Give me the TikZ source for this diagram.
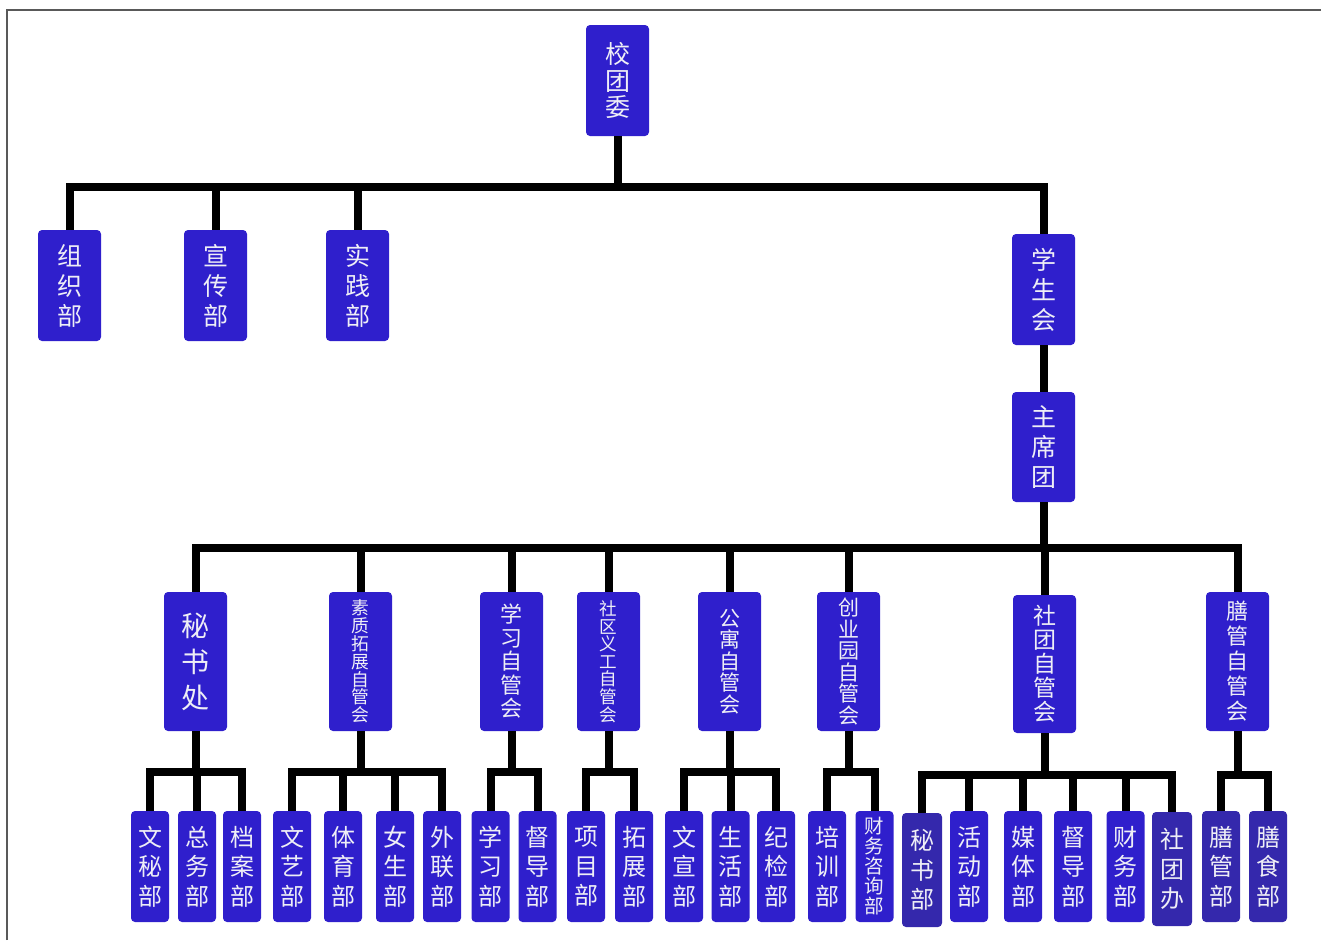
\documentclass[tikz,border=0pt]{standalone}
\usepackage{fontspec}
\newfontfamily\cjk{Noto Sans CJK SC}
\definecolor{boxblue}{RGB}{47,31,204}
\definecolor{boxdark}{RGB}{52,40,172}
\definecolor{txt}{RGB}{238,238,246}
\tikzset{
  org/.style={draw=none, fill=boxblue, rounded corners=4pt, inner sep=0pt, align=center,
    text=txt, minimum width=63pt},
  big/.style={org, minimum height=111pt, font=\cjk\fontsize{25}{28}\selectfont},
  mid/.style={org, minimum height=139pt},
  leaf/.style={org, minimum width=38pt, minimum height=111pt, font=\cjk\fontsize{24}{29.5}\selectfont},
  dark/.style={fill=boxdark, minimum width=40pt, minimum height=114pt},
  conn/.style={line width=8pt, line join=miter, black},
}
\begin{document}
\begin{tikzpicture}[x=1pt,y=-1pt]
\useasboundingbox (0,0) rectangle (1321,940);
\draw[line width=1.2pt, gray!70!black] (7,940) -- (7,10) -- (1321,10);

% level 0
\node[big, font=\cjk\fontsize{25}{26.5}\selectfont] (xtw) at (617.5,80.5) {校\\团\\委};
% level 1
\node[big, font=\cjk\fontsize{25}{30}\selectfont] (zzb) at (69.5,285.5) {组\\织\\部};
\node[big, font=\cjk\fontsize{25}{30}\selectfont] (xcb) at (215.5,285.5) {宣\\传\\部};
\node[big, font=\cjk\fontsize{25}{30}\selectfont] (sjb) at (357.5,285.5) {实\\践\\部};
\node[big, font=\cjk\fontsize{25}{30}\selectfont] (xsh) at (1043.5,289.5) {学\\生\\会};
\node[big, font=\cjk\fontsize{25}{30}\selectfont, minimum height=110pt] (zxt) at (1043.5,447) {主\\席\\团};
% level 2
\node[mid, font=\cjk\fontsize{28}{36}\selectfont] (msc) at (195.5,661.5) {秘\\书\\处};
\node[mid, font=\cjk\fontsize{17.8}{17.8}\selectfont] (szz) at (360.5,661.5) {素\\质\\拓\\展\\自\\管\\会};
\node[mid, font=\cjk\fontsize{22}{23.5}\selectfont] (xxz) at (511.5,661.5) {学\\习\\自\\管\\会};
\node[mid, font=\cjk\fontsize{17.6}{17.6}\selectfont] (sqz) at (608.5,661.5) {社\\区\\义\\工\\自\\管\\会};
\node[mid, font=\cjk\fontsize{21}{21.5}\selectfont] (gyz) at (729.5,661.5) {公\\寓\\自\\管\\会};
\node[mid, font=\cjk\fontsize{21}{21.5}\selectfont] (cyz) at (848.5,661.5) {创\\业\\园\\自\\管\\会};
\node[mid, font=\cjk\fontsize{23}{24}\selectfont, minimum height=138pt] (stz) at (1044.5,664) {社\\团\\自\\管\\会};
\node[mid, font=\cjk\fontsize{22}{25}\selectfont] (sgz) at (1237.5,661.5) {膳\\管\\自\\管\\会};
% level 3
\node[leaf] (wmb) at (150,866.5) {文\\秘\\部};
\node[leaf] (zwb) at (197,866.5) {总\\务\\部};
\node[leaf] (dab) at (242,866.5) {档\\案\\部};
\node[leaf] (wyb) at (292,866.5) {文\\艺\\部};
\node[leaf] (tyb) at (343,866.5) {体\\育\\部};
\node[leaf] (nsb) at (395,866.5) {女\\生\\部};
\node[leaf] (wlb) at (442,866.5) {外\\联\\部};
\node[leaf] (xxb) at (490.5,866.5) {学\\习\\部};
\node[leaf] (ddb) at (537.5,866.5) {督\\导\\部};
\node[leaf] (xmb) at (586,866.5) {项\\目\\部};
\node[leaf] (tzb) at (634,866.5) {拓\\展\\部};
\node[leaf] (wxb) at (684,866.5) {文\\宣\\部};
\node[leaf] (shb) at (730.5,866.5) {生\\活\\部};
\node[leaf] (jjb) at (776,866.5) {纪\\检\\部};
\node[leaf] (pxb) at (827,866.5) {培\\训\\部};
\node[leaf, font=\cjk\fontsize{19.5}{20}\selectfont] (cwzx) at (874.5,866.5) {财\\务\\咨\\询\\部};
\node[leaf, dark] (msb) at (922,870) {秘\\书\\部};
\node[leaf] (hdb) at (969,866.5) {活\\动\\部};
\node[leaf] (mtb) at (1023,866.5) {媒\\体\\部};
\node[leaf] (ddb2) at (1073,866.5) {督\\导\\部};
\node[leaf] (cwb) at (1125.5,866.5) {财\\务\\部};
\node[leaf, dark] (stb) at (1172,869) {社\\团\\办};
\node[leaf, dark, minimum width=38pt, minimum height=111pt] (sgb) at (1221,866.5) {膳\\管\\部};
\node[leaf, dark, minimum width=38pt, minimum height=111pt] (ssb) at (1268,866.5) {膳\\食\\部};

% bus coordinates
\coordinate (b0) at (xtw.south |- 0,187);
\coordinate (b1) at (zxt.south |- 0,548);
\coordinate (bm) at (msc.south |- 0,772);
\coordinate (bs) at (szz.south |- 0,772);
\coordinate (bx) at (xxz.south |- 0,772);
\coordinate (bq) at (sqz.south |- 0,772);
\coordinate (bg) at (gyz.south |- 0,772);
\coordinate (bc) at (cyz.south |- 0,772);
\coordinate (bt) at (stz.south |- 0,775);
\coordinate (bsg) at (sgz.south |- 0,775);

% level 0 -> 1
\draw[conn] (xtw.south) -- (b0);
\draw[conn] (zzb.north) |- (b0) -| (xsh.north);
\draw[conn] (xcb.north) -- (xcb.north |- b0);
\draw[conn] (sjb.north) -- (sjb.north |- b0);
\draw[conn] (xsh.south) -- (zxt.north);
% 主席团 -> level 2
\draw[conn] (zxt.south) -- (b1);
\draw[conn] (msc.north) |- (b1) -| (sgz.north);
\foreach \n in {szz,xxz,sqz,gyz,cyz,stz} \draw[conn] (\n.north) -- (\n.north |- b1);
% level 2 -> 3
\draw[conn] (msc.south) -- (bm);
\draw[conn] (wmb.north) |- (bm) -| (dab.north);
\draw[conn] (zwb.north) -- (zwb.north |- bm);

\draw[conn] (szz.south) -- (bs);
\draw[conn] (wyb.north) |- (bs) -| (wlb.north);
\draw[conn] (tyb.north) -- (tyb.north |- bs);
\draw[conn] (nsb.north) -- (nsb.north |- bs);

\draw[conn] (xxz.south) -- (bx);
\draw[conn] (xxb.north) |- (bx) -| (ddb.north);

\draw[conn] (sqz.south) -- (bq);
\draw[conn] (xmb.north) |- (bq) -| (tzb.north);

\draw[conn] (gyz.south) -- (bg);
\draw[conn] (wxb.north) |- (bg) -| (jjb.north);
\draw[conn] (shb.north) -- (shb.north |- bg);

\draw[conn] (cyz.south) -- (bc);
\draw[conn] (pxb.north) |- (bc) -| (cwzx.north);

\draw[conn] (stz.south) -- (bt);
\draw[conn] (msb.north) |- (bt) -| (stb.north);
\foreach \n in {hdb,mtb,ddb2,cwb} \draw[conn] (\n.north) -- (\n.north |- bt);

\draw[conn] (sgz.south) -- (bsg);
\draw[conn] (sgb.north) |- (bsg) -| (ssb.north);
\end{tikzpicture}
\end{document}
